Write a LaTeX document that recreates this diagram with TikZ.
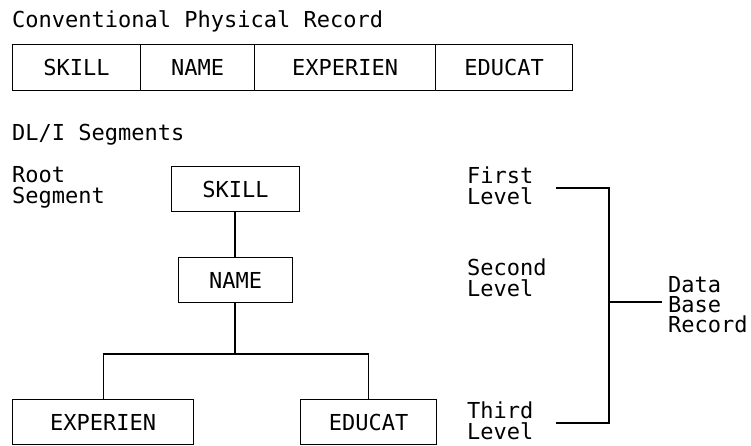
\documentclass[tikz,border=0pt]{standalone}
\usepackage{fontspec}
\setmonofont{DejaVu Sans Mono}
\begin{document}
\begin{tikzpicture}[x=1pt,y=-1pt,
  every node/.style={font=\ttfamily\fontsize{22}{21}\selectfont, inner sep=0pt},
  field/.style={draw, line width=1.2pt, minimum height=46pt, anchor=north west},
  segbox/.style={draw, line width=1.2pt, minimum height=45pt, anchor=north west},
  label/.style={anchor=base west, align=left},
  link/.style={line width=1.2pt}]
\useasboundingbox (0,0) rectangle (751,445);

% Conventional physical record
\node[label] (title) at (12,27) {Conventional Physical Record};
\node[field, minimum width=128pt] (fskill) at (12,44) {SKILL};
\node[field, minimum width=114pt] (fname) at (140,44) {NAME};
\node[field, minimum width=181pt] (fexp) at (254,44) {EXPERIEN};
\node[field, minimum width=137pt] (fedu) at (435,44) {EDUCAT};

% DL/I segment hierarchy (a multi-line label sits on its last baseline)
\node[label] (dli) at (12,140) {DL/I Segments};
\node[label] (root) at (12,203) {Root\\Segment};

\node[segbox, minimum width=128pt] (skill) at (171,166) {SKILL};
\node[segbox, minimum width=114pt] (name) at (178,257) {NAME};
\node[segbox, minimum width=181pt] (exper) at (12,399) {EXPERIEN};
\node[segbox, minimum width=136pt] (educ) at (300,399) {EDUCAT};

\coordinate (fork) at (235,354);
\draw[link] (skill.south -| fork) -- (name.north -| fork);
\draw[link] (name.south -| fork) -- (fork);
\draw[link] (exper.north) |- (fork) -| (educ.north);

% Level labels and the data base record bracket
\node[label] (first) at (467,204) {First\\Level};
\node[label] (second) at (467,296) {Second\\Level};
\node[label] (third) at (467,439) {Third\\Level};
\node[label, font=\ttfamily\fontsize{22}{20}\selectfont] (dbr) at (668,332) {Data\\Base\\Record};

\coordinate (b1) at (556,188);
\coordinate (b2) at (556,423);
\coordinate (bm) at (609,302);
\coordinate (bt) at (662,302);
\draw[link] (b1) -| (bm) |- (b2);
\draw[link] (bm) -- (bt);
\end{tikzpicture}
\end{document}
